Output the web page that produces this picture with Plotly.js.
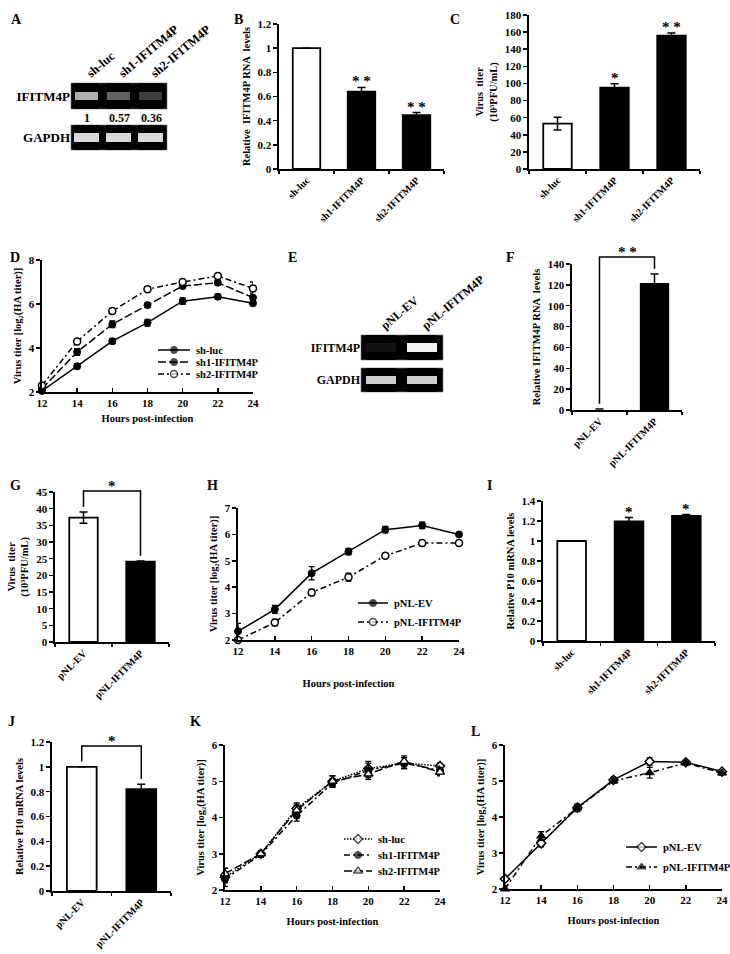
<!DOCTYPE html>
<html><head><meta charset="utf-8">
<script src="https://cdn.plot.ly/plotly-3.0.1.min.js"></script>
<style>html,body{margin:0;padding:0;background:#fff}#chart{width:730px;height:954px}</style>
</head><body><div id="chart"></div>
<script>
// ---------------- data ----------------
const shCats = ['sh-luc', 'sh1-IFITM4P', 'sh2-IFITM4P'];
const pnlCats = ['pNL-EV', 'pNL-IFITM4P'];
const hours = [12, 14, 16, 18, 20, 22, 24];
const gelRows = ['IFITM4P', 'GAPDH'];

const gelA_ifitm = [1, 0.57, 0.36];
const gelA_gapdh = [0.9, 0.9, 0.9];
const gelE_ifitm = [0.08, 1];
const gelE_gapdh = [0.85, 0.85];

// null = no error bar drawn (control set to 1)
const B_vals = [1, 0.64, 0.445], B_err = [null, 0.035, 0.022], B_sig = ['', '* *', '* *'];
const C_vals = [53, 95, 156], C_err = [7.5, 4.7, 3], C_sig = ['', '*', '* *'];
const F_vals = [1, 121], F_err = [null, 9.5], F_sig = '* *';
const G_vals = [37.3, 24.1], G_err = [1.7, 0.2], G_sig = '*';
const I_vals = [1, 1.195, 1.25], I_err = [null, 0.04, 0.015], I_sig = ['', '*', '*'];
const J_vals = [1, 0.82], J_err = [null, 0.04], J_sig = '*';

const D_luc = [2.05, 3.17, 4.31, 5.15, 6.13, 6.33, 6.03], D_luc_err = [0.05, 0.12, 0.12, 0.15, 0.15, 0.12, 0.08];
const D_sh1 = [2.15, 3.82, 5.08, 5.95, 6.82, 6.97, 6.29], D_sh1_err = [0.08, 0.15, 0.15, 0.1, 0.12, 0.12, 0.2];
const D_sh2 = [2.3, 4.3, 5.68, 6.67, 7.0, 7.27, 6.71], D_sh2_err = [0.1, 0.05, 0.12, 0.12, 0.06, 0.12, 0.3];

const H_ev = [2.33, 3.16, 4.53, 5.35, 6.18, 6.34, 6.0], H_ev_err = [0.3, 0.15, 0.25, 0.12, 0.12, 0.12, 0.05];
const H_if = [2.0, 2.66, 3.8, 4.38, 5.19, 5.67, 5.67], H_if_err = [0.02, 0.12, 0.12, 0.15, 0.1, 0.1, 0.1];

const K_luc = [2.35, 3.0, 4.25, 5.0, 5.35, 5.5, 5.42], K_luc_err = [0.15, 0.08, 0.15, 0.15, 0.2, 0.15, 0.08];
const K_sh1 = [2.3, 2.98, 4.05, 4.95, 5.3, 5.5, 5.3], K_sh1_err = [0.2, 0.08, 0.15, 0.12, 0.2, 0.15, 0.12];
const K_sh2 = [2.45, 3.0, 4.2, 5.0, 5.2, 5.55, 5.25], K_sh2_err = [0.15, 0.08, 0.15, 0.15, 0.15, 0.15, 0.1];

const L_ev = [2.28, 3.27, 4.26, 5.03, 5.54, 5.52, 5.26], L_ev_err = [0.05, 0.1, 0.1, 0.08, 0.1, 0.05, 0.05];
const L_if = [2.0, 3.47, 4.25, 5.0, 5.23, 5.5, 5.22], L_if_err = [0.1, 0.12, 0.1, 0.05, 0.15, 0.05, 0.05];

// ---------------- helpers ----------------
const W = 730, H = 954;
const FF = '"Liberation Serif","Times New Roman","DejaVu Serif",serif';
const BLK = '#000';
function fnt(s) { return {family: FF, size: s, color: BLK, weight: 'bold'}; }
function dx(a, b) { return [a / W, b / W]; }
function dy(top, bot) { return [1 - bot / H, 1 - top / H]; }

const traces = [];
const layout = {
  width: W, height: H, margin: {l: 0, r: 0, t: 0, b: 0},
  paper_bgcolor: '#fff', plot_bgcolor: 'rgba(0,0,0,0)', showlegend: false,
  font: fnt(11), annotations: [], shapes: []
};

function yAxis(k, d, range, dtick, title) {
  layout['yaxis' + k] = {
    domain: d, anchor: 'x' + k, range: range, dtick: dtick, tick0: range[0],
    showline: true, linecolor: BLK, linewidth: 1.6, ticks: 'outside', ticklen: 4, tickwidth: 1.5, tickcolor: BLK,
    showgrid: false, zeroline: false, tickfont: fnt(11), fixedrange: true,
    title: {text: title, font: fnt(10.5), standoff: 5}
  };
}

function barPanel(k, cats, vals, errs, xd, yd, yr, dtick, ytitle, edge) {
  traces.push({
    type: 'bar', x: cats, y: vals, xaxis: 'x' + k, yaxis: 'y' + k, width: 0.5,
    marker: {color: cats.map((c, i) => i === 0 ? '#fff' : '#000'), line: {color: BLK, width: edge || 1.8}},
    error_y: {type: 'data', array: errs, visible: true, color: BLK, thickness: 1.5, width: 4},
    hoverinfo: 'skip'
  });
  layout['xaxis' + k] = {
    domain: xd, anchor: 'y' + k, type: 'category', range: [-0.5, cats.length - 0.5],
    tickson: 'boundaries', ticks: 'outside', ticklen: 3, tickwidth: 1.5, tickcolor: BLK,
    showline: true, linewidth: 1.6, linecolor: BLK, showgrid: false, zeroline: false,
    tickangle: -45, tickfont: fnt(10), fixedrange: true
  };
  yAxis(k, yd, yr, dtick, ytitle);
}

function stars(k, cats, vals, errs, sig) {
  cats.forEach((c, i) => {
    if (!sig[i]) return;
    layout.annotations.push({xref: 'x' + k, yref: 'y' + k, x: c, y: vals[i] + (errs[i] || 0), yanchor: 'bottom',
      yshift: -4, text: sig[i], showarrow: false, font: fnt(15)});
  });
}

function bracket(k, vals, errs, yr, sig, topPad) {
  const span = yr[1] - yr[0];
  const f = v => (v - yr[0]) / span;
  const tops = vals.map((v, i) => v + (errs[i] || 0));
  const top = Math.max(...tops) + topPad * span;
  const gap = 0.035 * span;
  const n = vals.length;
  const x0 = 0.5 / n, x1 = 1.5 / n;
  layout.shapes.push({type: 'path', xref: 'x' + k + ' domain', yref: 'y' + k + ' domain',
    path: `M ${x0},${f(tops[0] + gap)} L ${x0},${f(top)} L ${x1},${f(top)} L ${x1},${f(tops[1] + gap)}`,
    line: {color: BLK, width: 1.5}});
  layout.annotations.push({xref: 'x' + k + ' domain', yref: 'y' + k + ' domain', x: (x0 + x1) / 2, y: f(top),
    yanchor: 'bottom', yshift: -5, text: sig, showarrow: false, font: fnt(15)});
}

function linePanel(k, series, xd, yd, yr, dtick, ytitle, tStand) {
  series.forEach(s => {
    traces.push({type: 'scatter', mode: 'lines+markers', x: hours, y: s.y, xaxis: 'x' + k, yaxis: 'y' + k,
      line: s.line, marker: s.marker, cliponaxis: false, hoverinfo: 'skip',
      error_y: {type: 'data', array: s.err, visible: true, color: BLK, thickness: 1.3, width: 3}});
  });
  layout['xaxis' + k] = {
    domain: xd, anchor: 'y' + k, range: [12, 24], dtick: 2, tick0: 12,
    ticks: 'inside', ticklen: 4, tickwidth: 1.5, tickcolor: BLK,
    showline: true, linewidth: 1.6, linecolor: BLK, showgrid: false, zeroline: false,
    tickfont: fnt(11), fixedrange: true, title: {text: 'Hours post-infection', font: fnt(10.5), standoff: tStand}
  };
  yAxis(k, yd, yr, dtick, ytitle);
}

function legendBox(k, series, names, xd, rowTop, rowH) {
  const n = series.length;
  layout['xaxis' + k] = {domain: xd, anchor: 'y' + k, range: [0, 1], visible: false, fixedrange: true};
  layout['yaxis' + k] = {domain: dy(rowTop - rowH / 2, rowTop + (n - 0.5) * rowH), anchor: 'x' + k,
    range: [n - 0.5, -0.5], visible: false, fixedrange: true};
  series.forEach((s, i) => {
    const m = Object.assign({}, s.marker, {size: [0, s.marker.size, 0],
      line: {color: BLK, width: [0, s.marker.line.width, 0]}});
    traces.push({type: 'scatter', mode: 'lines+markers', x: [0, 0.5, 1], y: [i, i, i],
      xaxis: 'x' + k, yaxis: 'y' + k, line: s.line, marker: m, cliponaxis: false, hoverinfo: 'skip'});
    layout.annotations.push({xref: 'x' + k, yref: 'y' + k, x: 1, y: i, xanchor: 'left', yanchor: 'middle',
      xshift: 4, text: names[i], showarrow: false, font: fnt(10.5)});
  });
}

function gel(k, lanes, rowName, vals, xd, yd, showLanes, labelSize, laneSize, gap) {
  const z = [lanes.map(() => 0), vals, lanes.map(() => 0)];
  traces.push({type: 'heatmap', x: lanes, y: [0, 1, 2], z: z, xaxis: 'x' + k, yaxis: 'y' + k,
    zmin: 0, zmax: 1, colorscale: [[0, '#000'], [1, '#f2f2f2']], showscale: false, xgap: gap, hoverinfo: 'skip'});
  layout['xaxis' + k] = {domain: xd, anchor: 'y' + k, type: 'category', side: 'top',
    showticklabels: showLanes, tickangle: -40, ticks: '', showline: false, showgrid: false, zeroline: false,
    tickfont: fnt(laneSize), fixedrange: true};
  layout['yaxis' + k] = {domain: yd, anchor: 'x' + k, range: [-0.5, 2.5], tickvals: [1], ticktext: [rowName],
    ticks: '', showline: false, showgrid: false, zeroline: false, tickfont: fnt(labelSize), fixedrange: true};
  layout.shapes.push({type: 'rect', xref: 'x' + k + ' domain', yref: 'y' + k + ' domain', x0: 0, x1: 1, y0: 0, y1: 1,
    fillcolor: '#000', line: {color: '#777', width: 0.6}, layer: 'below'});
}

// ---------------- styles ----------------
const sFilledSolid = {line: {color: BLK, width: 1.5, dash: 'solid'}, marker: {symbol: 'circle', size: 7, color: BLK, line: {color: BLK, width: 1}}};
const sFilledDash = {line: {color: BLK, width: 1.5, dash: '8px,3px'}, marker: {symbol: 'circle', size: 7, color: BLK, line: {color: BLK, width: 1}}};
const sOpenDashDot = {line: {color: BLK, width: 1.5, dash: '6px,3px,2px,3px'}, marker: {symbol: 'circle', size: 7, color: '#fff', line: {color: BLK, width: 1.5}}};
const sFilledDashDot = {line: {color: BLK, width: 1.5, dash: '6px,3px,2px,3px'}, marker: {symbol: 'circle', size: 7, color: BLK, line: {color: BLK, width: 1}}};
const sDotDiamond = {line: {color: BLK, width: 1.5, dash: '1.5px,1.5px'}, marker: {symbol: 'diamond', size: 7, color: '#fff', line: {color: BLK, width: 1.5}}};
const sDashTriOpen = {line: {color: BLK, width: 1.5, dash: '8px,3px'}, marker: {symbol: 'triangle-up', size: 8, color: '#fff', line: {color: BLK, width: 1.3}}};
const sSolidDiamond = {line: {color: BLK, width: 1.5, dash: 'solid'}, marker: {symbol: 'diamond', size: 7, color: '#fff', line: {color: BLK, width: 1.5}}};
const sDashDotTri = {line: {color: BLK, width: 1.5, dash: '6px,3px,2px,3px'}, marker: {symbol: 'triangle-up', size: 8, color: BLK, line: {color: BLK, width: 1}}};

const ytHA = 'Virus titer [log\u2082(HA titer)]';
const ytPFU = 'Virus  titer<br>(10\u2075PFU/mL)';

// ---------------- panels ----------------
barPanel(1, shCats, B_vals, B_err, dx(279, 444), dy(24, 169), [0, 1.2], 0.2, 'Relative  IFITM4P RNA  levels');
stars(1, shCats, B_vals, B_err, B_sig);
barPanel(2, shCats, C_vals, C_err, dx(529, 700), dy(15, 169), [0, 180], 20, ytPFU);
stars(2, shCats, C_vals, C_err, C_sig);

const Dser = [Object.assign({y: D_luc, err: D_luc_err}, sFilledSolid), Object.assign({y: D_sh1, err: D_sh1_err}, sFilledDash), Object.assign({y: D_sh2, err: D_sh2_err}, sOpenDashDot)];
linePanel(3, Dser, dx(42, 253), dy(260, 392), [2, 8], 2, ytHA, 7);
legendBox(15, Dser, shCats, dx(158, 190), 350, 12);

barPanel(4, pnlCats, F_vals, F_err, dx(572, 682), dy(264, 410), [0, 140], 20, 'Relative IFITM4P RNA  levels', [0, 1.8]);
bracket(4, F_vals, F_err, [0, 140], F_sig, 0.115);

barPanel(5, pnlCats, G_vals, G_err, dx(55, 169), dy(492, 642), [0, 45], 5, ytPFU);
bracket(5, G_vals, G_err, [0, 45], G_sig, 0.14);

const Hser = [Object.assign({y: H_ev, err: H_ev_err}, sFilledSolid), Object.assign({y: H_if, err: H_if_err}, sOpenDashDot)];
linePanel(6, Hser, dx(238, 459), dy(508, 640), [2, 7], 1, ytHA, 24);
legendBox(16, Hser, pnlCats, dx(358, 388), 603, 19);

barPanel(7, shCats, I_vals, I_err, dx(543, 715), dy(501, 641), [0, 1.4], 0.2, 'Relative P10 mRNA levels');
stars(7, shCats, I_vals, I_err, I_sig);

barPanel(8, pnlCats, J_vals, J_err, dx(52, 171), dy(742, 891), [0, 1.2], 0.2, 'Relative P10 mRNA levels');
bracket(8, J_vals, J_err, [0, 1.2], J_sig, 0.14);

const Kser = [Object.assign({y: K_luc, err: K_luc_err}, sDotDiamond), Object.assign({y: K_sh1, err: K_sh1_err}, sFilledDashDot), Object.assign({y: K_sh2, err: K_sh2_err}, sDashTriOpen)];
linePanel(9, Kser, dx(225, 440), dy(745, 890), [2, 6], 1, ytHA, 12);
legendBox(17, Kser, shCats, dx(344, 372), 839, 16);

const Lser = [Object.assign({y: L_ev, err: L_ev_err}, sSolidDiamond), Object.assign({y: L_if, err: L_if_err}, sDashDotTri)];
linePanel(10, Lser, dx(505, 722), dy(745, 889), [2, 6], 1, ytHA, 12);
legendBox(18, Lser, pnlCats, dx(626, 657), 847, 20);

// gels
gel(11, shCats, gelRows[0], gelA_ifitm.map(v => v * 0.72), dx(71, 167), dy(83, 109), true, 13, 12.5, 9);
gel(12, shCats, gelRows[1], gelA_gapdh, dx(71, 167), dy(125, 150), false, 13, 12.5, 7);
shCats.forEach((c, i) => layout.annotations.push({xref: 'x11', yref: 'paper', x: c, y: 1 - 118 / H,
  yanchor: 'middle', text: String(gelA_ifitm[i]), showarrow: false, font: fnt(12)}));
gel(13, pnlCats, gelRows[0], gelE_ifitm, dx(361, 443), dy(335, 360), true, 12, 12, 11);
gel(14, pnlCats, gelRows[1], gelE_gapdh, dx(361, 443), dy(368, 392), false, 12, 12, 11);

// panel letters
[['A', 9, 10], ['B', 232, 10], ['C', 455, 10], ['D', 8, 248], ['E', 292, 248], ['F', 517, 248],
 ['G', 8, 485], ['H', 205, 485], ['I', 494, 485], ['J', 6, 731], ['K', 188, 731], ['L', 475, 741]]
  .forEach(p => layout.annotations.push({xref: 'paper', yref: 'paper', x: p[1] / W, y: 1 - p[2] / H,
    text: p[0], showarrow: false, font: fnt(14)}));

Plotly.newPlot('chart', traces, layout, {staticPlot: true, displayModeBar: false});
</script></body></html>
